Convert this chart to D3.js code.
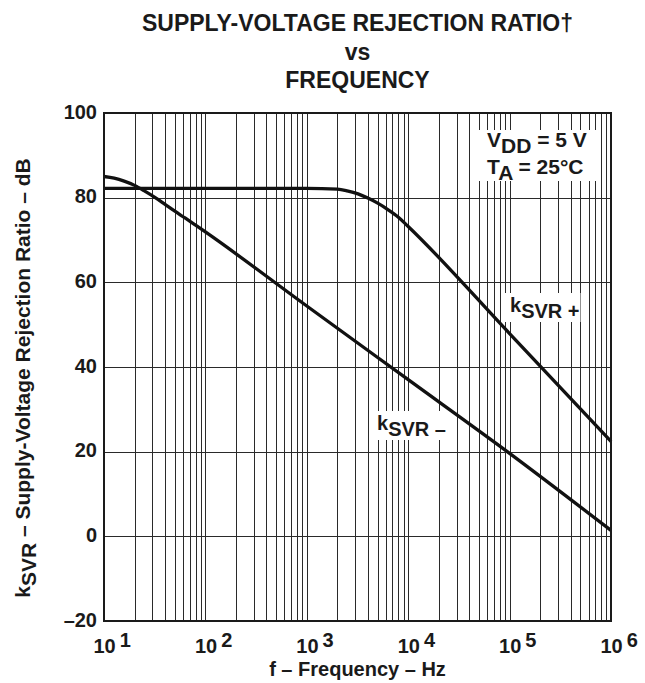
<!DOCTYPE html>
<html>
<head>
<meta charset="utf-8">
<script src="https://cdn.jsdelivr.net/npm/d3@7"></script>
<style>
  body { margin: 0; background: #fff; }
  text { font-family: "Liberation Sans", Arial, Helvetica, sans-serif; font-weight: bold; fill: #1a1a1a; }
</style>
</head>
<body>
<svg id="chart" width="645" height="683"></svg>
<script>
// ---- data -------------------------------------------------------------
const titleLines = ["SUPPLY-VOLTAGE REJECTION RATIO\u2020", "vs", "FREQUENCY"];

const yTickValues = [-20, 0, 20, 40, 60, 80, 100];
const yTickLabels = ["\u201320", "0", "20", "40", "60", "80", "100"];

const xDecades = [10, 100, 1000, 10000, 100000, 1000000];
const xExponents = ["1", "2", "3", "4", "5", "6"];

// kSVR+ (dB) vs frequency (Hz)
const freqPlus = [10, 100, 1000, 2000, 2500, 3200, 4000, 5000, 6300, 8000, 10000, 100000, 1000000];
const svrPlus  = [82.2, 82.2, 82.2, 82.0, 81.6, 80.9, 79.9, 78.7, 77.2, 75.4, 73.2, 47.9, 22.4];

// kSVR- (dB) vs frequency (Hz)
const freqMinus = [10, 12.6, 15.8, 20, 25, 32, 40, 50, 63, 80, 100, 1000, 10000, 100000, 1000000];
const svrMinus  = [85.0, 84.6, 83.9, 82.9, 81.6, 80.0, 78.4, 76.8, 75.2, 73.5, 71.9, 54.4, 37.0, 19.6, 1.4];

// ---- layout -----------------------------------------------------------
const plot = { left: 104, right: 611, top: 113, bottom: 621 };
const svg = d3.select("#chart");

const x = d3.scaleLog().domain([10, 1e6]).range([plot.left, plot.right]);
const y = d3.scaleLinear().domain([-20, 100]).range([plot.bottom, plot.top]);

// ---- title ------------------------------------------------------------
const titleY = [31, 60, 88];
svg.append("g").selectAll("text").data(titleLines).join("text")
  .attr("x", (plot.left + plot.right) / 2)
  .attr("y", (d, i) => titleY[i])
  .attr("text-anchor", "middle")
  .attr("font-size", 23)
  .text(d => d);

// ---- grid -------------------------------------------------------------
const gridColor = "#2a2a2a";
svg.append("g")
  .attr("transform", `translate(0,${plot.bottom})`)
  .call(d3.axisBottom(x).tickValues(x.ticks()).tickSize(-(plot.bottom - plot.top)).tickFormat(""))
  .call(g => {
    g.select(".domain").remove();
    g.selectAll("line").attr("stroke", gridColor).attr("stroke-width", 1)
      .attr("shape-rendering", "crispEdges");
  });

svg.append("g")
  .attr("transform", `translate(${plot.left},0)`)
  .call(d3.axisLeft(y).tickValues(yTickValues).tickSize(-(plot.right - plot.left)).tickFormat(""))
  .call(g => {
    g.select(".domain").remove();
    g.selectAll("line").attr("stroke", gridColor).attr("stroke-width", 1)
      .attr("shape-rendering", "crispEdges");
  });

// ---- tick labels ------------------------------------------------------
svg.append("g")
  .attr("transform", `translate(${plot.left},0)`)
  .call(d3.axisLeft(y).tickValues(yTickValues).tickSize(0).tickPadding(7)
    .tickFormat((d, i) => yTickLabels[i]))
  .call(g => {
    g.select(".domain").remove();
    g.attr("font-size", null).attr("font-family", null);
    g.selectAll("text").attr("font-size", 20).attr("dy", "0.25em").attr("fill", "#1a1a1a");
  });

svg.append("g")
  .attr("transform", `translate(0,${plot.bottom})`)
  .call(d3.axisBottom(x).tickValues(xDecades).tickSize(0).tickFormat(""))
  .call(g => {
    g.select(".domain").remove();
    g.attr("font-size", null).attr("font-family", null);
    g.selectAll(".tick text").each(function (d, i) {
      const t = d3.select(this)
        .attr("text-anchor", "start")
        .attr("x", -11).attr("y", 32).attr("dy", 0)
        .attr("font-size", 20).attr("fill", "#1a1a1a");
      t.append("tspan").text("10");
      t.append("tspan").attr("dx", 4).attr("dy", -6).attr("font-size", 20).text(xExponents[i]);
    });
  });

// ---- axis titles ------------------------------------------------------
svg.append("text")
  .attr("x", (plot.left + plot.right) / 2)
  .attr("y", 676)
  .attr("text-anchor", "middle")
  .attr("font-size", 20)
  .text("f \u2013 Frequency \u2013 Hz");

const yTitle = svg.append("text")
  .attr("transform", `translate(30,${(plot.top + plot.bottom) / 2 + 11}) rotate(-90)`)
  .attr("text-anchor", "middle")
  .attr("font-size", 21);
yTitle.append("tspan").text("k");
yTitle.append("tspan").attr("dy", 6).text("SVR");
yTitle.append("tspan").attr("dy", -6).text(" \u2013 Supply-Voltage Rejection Ratio \u2013 dB");

// ---- labels on white backing -----------------------------------------
function label(parts, px, py, size, pad) {
  const g = svg.append("g");
  const bg = g.append("rect").attr("fill", "#fff");
  const t = g.append("text").attr("font-size", size);
  parts.forEach(p => {
    if (p.newLine) {
      t.append("tspan").attr("x", px).attr("y", p.y).text(p.text);
    } else {
      t.append("tspan").attr("dy", p.dy || 0).text(p.text);
    }
  });
  t.attr("x", px).attr("y", py);
  const b = t.node().getBBox();
  bg.attr("x", b.x - pad[0]).attr("y", b.y - pad[1])
    .attr("width", b.width + pad[0] + pad[2]).attr("height", b.height + pad[1] + pad[3]);
  return g;
}

// operating conditions
label([
  { text: "V" }, { text: "DD", dy: 6 }, { text: " = 5 V", dy: -6 },
  { text: "T", newLine: true, y: 174 }, { text: "A", dy: 6 }, { text: " = 25\u00B0C", dy: -6 }
], 487, 147, 21, [8, -2, 13, -3]);

// curve names
label([{ text: "k" }, { text: "SVR +", dy: 6 }], 510, 312, 20, [6, 1, 1, 0]);
label([{ text: "k" }, { text: "SVR \u2013", dy: 6 }], 377, 430, 20, [2, 1, 2, 0]);

// ---- curves -----------------------------------------------------------
const line = d3.line()
  .x(d => x(d[0]))
  .y(d => y(d[1]))
  .curve(d3.curveMonotoneX);

const series = [
  d3.zip(freqPlus, svrPlus),
  d3.zip(freqMinus, svrMinus)
];

svg.append("g").selectAll("path").data(series).join("path")
  .attr("d", line)
  .attr("fill", "none")
  .attr("stroke", "#111")
  .attr("stroke-width", 3.3)
  .attr("stroke-linejoin", "round");

// ---- frame ------------------------------------------------------------
svg.append("rect")
  .attr("x", plot.left).attr("y", plot.top)
  .attr("width", plot.right - plot.left).attr("height", plot.bottom - plot.top)
  .attr("fill", "none").attr("stroke", "#1a1a1a").attr("stroke-width", 2);
</script>
</body>
</html>
